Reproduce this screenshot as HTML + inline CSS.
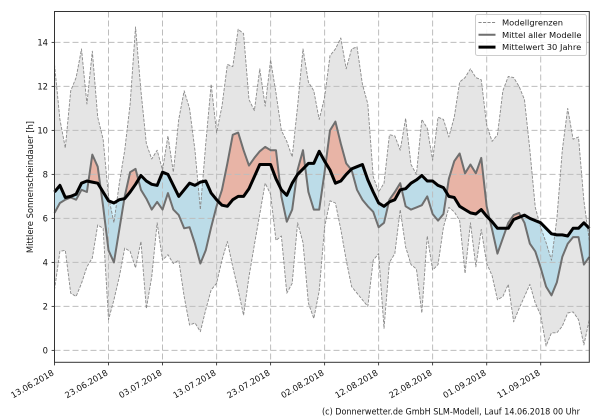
<!DOCTYPE html>
<html><head><meta charset="utf-8"><style>
html,body{margin:0;padding:0;background:#fff;width:600px;height:420px;overflow:hidden;}
svg{display:block;font-family:"DejaVu Sans","Liberation Sans",sans-serif;}
</style></head><body>
<svg width="600" height="420" viewBox="0 0 600 420" xmlns="http://www.w3.org/2000/svg">
<defs>
<clipPath id="cA" clipPathUnits="userSpaceOnUse"><polygon points="0,7.2 1,7.5 2,6.95 3,7 4,7.1 5,7.6 6,7.7 7,7.65 8,7.6 9,7.2 10,6.8 11,6.7 12,6.85 13,6.9 14,7.2 15,7.55 16,7.95 17,7.7 18,7.55 19,7.5 20,8.1 21,8 22,7.5 23,7 24,7.3 25,7.6 26,7.5 27,7.65 28,7.7 29,7.15 30,6.85 31,6.6 32,6.55 33,6.85 34,7 35,7 36,7.35 37,7.9 38,8.45 39,8.45 40,8.45 41,7.8 42,7.3 43,7.05 44,7.6 45,8 46,8.25 47,8.5 48,8.5 49,9.05 50,8.6 51,8.2 52,7.6 53,7.7 54,8 55,8.25 56,8.35 57,8.45 58,7.75 59,7.2 60,6.7 61,6.55 62,6.75 63,6.85 64,7.3 65,7.35 66,7.6 67,7.75 68,7.95 69,7.7 70,7.7 71,7.5 72,7.4 73,7 74,6.95 75,6.55 76,6.4 77,6.25 78,6.2 79,6.4 80,6.1 81,5.85 82,5.55 83,5.55 84,5.55 85,5.95 86,6.05 87,6.15 88,6 89,5.9 90,5.8 91,5.55 92,5.3 93,5.25 94,5.25 95,5.2 96,5.55 97,5.55 98,5.8 99,5.55 99,15 0,15"/></clipPath>
<clipPath id="cB" clipPathUnits="userSpaceOnUse"><polygon points="0,7.2 1,7.5 2,6.95 3,7 4,7.1 5,7.6 6,7.7 7,7.65 8,7.6 9,7.2 10,6.8 11,6.7 12,6.85 13,6.9 14,7.2 15,7.55 16,7.95 17,7.7 18,7.55 19,7.5 20,8.1 21,8 22,7.5 23,7 24,7.3 25,7.6 26,7.5 27,7.65 28,7.7 29,7.15 30,6.85 31,6.6 32,6.55 33,6.85 34,7 35,7 36,7.35 37,7.9 38,8.45 39,8.45 40,8.45 41,7.8 42,7.3 43,7.05 44,7.6 45,8 46,8.25 47,8.5 48,8.5 49,9.05 50,8.6 51,8.2 52,7.6 53,7.7 54,8 55,8.25 56,8.35 57,8.45 58,7.75 59,7.2 60,6.7 61,6.55 62,6.75 63,6.85 64,7.3 65,7.35 66,7.6 67,7.75 68,7.95 69,7.7 70,7.7 71,7.5 72,7.4 73,7 74,6.95 75,6.55 76,6.4 77,6.25 78,6.2 79,6.4 80,6.1 81,5.85 82,5.55 83,5.55 84,5.55 85,5.95 86,6.05 87,6.15 88,6 89,5.9 90,5.8 91,5.55 92,5.3 93,5.25 94,5.25 95,5.2 96,5.55 97,5.55 98,5.8 99,5.55 99,-0.5 0,-0.5"/></clipPath>
<clipPath id="cG" clipPathUnits="userSpaceOnUse"><polygon points="0,13 1,10.5 2,9.2 3,11.8 4,12.4 5,13.7 6,11.2 7,13.6 8,10.6 9,9.6 10,7 11,5.8 12,7.6 13,9.1 14,11.2 15,14.7 16,11.8 17,9.4 18,8.7 19,9.1 20,8.2 21,9.75 22,8.1 23,10.5 24,11.8 25,11 26,9.1 27,6.4 28,9.4 29,12.1 30,9.9 31,11.1 32,13 33,12.9 34,14.6 35,14.4 36,11.4 37,10.9 38,12.8 39,11.1 40,13.2 41,11.7 42,10 43,9.5 44,8.8 45,11.1 46,13.7 47,12.2 48,11.8 49,10.5 50,11.5 51,13.4 52,13.7 53,14.2 54,12.8 55,13.7 56,13.8 57,12.1 58,11.2 59,7.9 60,7.2 61,7.6 62,9.8 63,9.75 64,9.1 65,10.55 66,8.45 67,8 68,10.5 69,10.1 70,8.65 71,10.6 72,10.5 73,9.7 74,10.6 75,12.2 76,12.4 77,12.8 78,12.4 79,12.3 80,10.25 81,9.5 82,9.8 83,11.8 84,12.45 85,12.4 86,12 87,11.4 88,9.1 89,6.5 90,5.6 91,4.9 92,4.1 93,6 94,9.1 95,11 96,9.6 97,9.7 98,6.8 99,5 99,1.4 98,0.25 97,1.4 96,1.75 95,1.7 94,1.1 93,0.8 92,0.8 91,0.2 90,1.6 89,2.15 88,3 87,2.45 86,1.9 85,1.3 84,3 83,2.45 82,2.3 81,3.4 80,3.96 79,5.5 78,3.8 77,5.8 76,3.5 75,5.9 74,6.3 73,6.5 72,5.6 71,3.9 70,3.65 69,5.2 68,1.7 67,3.7 66,3.9 65,4.7 64,6.4 63,4.4 62,4 61,1 60,4.4 59,4.1 58,2 57,2.3 56,2.6 55,2.9 54,4.1 53,5.5 52,6.7 51,6.8 50,5.6 49,2.7 48,1.45 47,2.15 46,4.9 45,5.8 44,3.05 43,2.6 42,5.2 41,5 40,7.1 39,7.6 38,6.2 37,4.8 36,3.35 35,1.6 34,2.75 33,3.8 32,4.95 31,4.1 30,3.05 29,2.75 28,1.85 27,0.85 26,1.25 25,1.15 24,2.45 23,4.1 22,3.95 21,4.35 20,4.1 19,5.8 18,3.35 17,1.9 16,4.95 15,3.75 14,4.5 13,4.65 12,3.35 11,2.3 10,1.4 9,5.55 8,5.7 7,4.2 6,3.8 5,3.05 4,2.45 3,2.6 2,4.55 1,4.5 0,2.75"/></clipPath>
</defs>

<g transform="translate(54.5,350.4) scale(5.402,-22)">
<polygon fill="#e5e5e5" points="0,13 1,10.5 2,9.2 3,11.8 4,12.4 5,13.7 6,11.2 7,13.6 8,10.6 9,9.6 10,7 11,5.8 12,7.6 13,9.1 14,11.2 15,14.7 16,11.8 17,9.4 18,8.7 19,9.1 20,8.2 21,9.75 22,8.1 23,10.5 24,11.8 25,11 26,9.1 27,6.4 28,9.4 29,12.1 30,9.9 31,11.1 32,13 33,12.9 34,14.6 35,14.4 36,11.4 37,10.9 38,12.8 39,11.1 40,13.2 41,11.7 42,10 43,9.5 44,8.8 45,11.1 46,13.7 47,12.2 48,11.8 49,10.5 50,11.5 51,13.4 52,13.7 53,14.2 54,12.8 55,13.7 56,13.8 57,12.1 58,11.2 59,7.9 60,7.2 61,7.6 62,9.8 63,9.75 64,9.1 65,10.55 66,8.45 67,8 68,10.5 69,10.1 70,8.65 71,10.6 72,10.5 73,9.7 74,10.6 75,12.2 76,12.4 77,12.8 78,12.4 79,12.3 80,10.25 81,9.5 82,9.8 83,11.8 84,12.45 85,12.4 86,12 87,11.4 88,9.1 89,6.5 90,5.6 91,4.9 92,4.1 93,6 94,9.1 95,11 96,9.6 97,9.7 98,6.8 99,5 99,1.4 98,0.25 97,1.4 96,1.75 95,1.7 94,1.1 93,0.8 92,0.8 91,0.2 90,1.6 89,2.15 88,3 87,2.45 86,1.9 85,1.3 84,3 83,2.45 82,2.3 81,3.4 80,3.96 79,5.5 78,3.8 77,5.8 76,3.5 75,5.9 74,6.3 73,6.5 72,5.6 71,3.9 70,3.65 69,5.2 68,1.7 67,3.7 66,3.9 65,4.7 64,6.4 63,4.4 62,4 61,1 60,4.4 59,4.1 58,2 57,2.3 56,2.6 55,2.9 54,4.1 53,5.5 52,6.7 51,6.8 50,5.6 49,2.7 48,1.45 47,2.15 46,4.9 45,5.8 44,3.05 43,2.6 42,5.2 41,5 40,7.1 39,7.6 38,6.2 37,4.8 36,3.35 35,1.6 34,2.75 33,3.8 32,4.95 31,4.1 30,3.05 29,2.75 28,1.85 27,0.85 26,1.25 25,1.15 24,2.45 23,4.1 22,3.95 21,4.35 20,4.1 19,5.8 18,3.35 17,1.9 16,4.95 15,3.75 14,4.5 13,4.65 12,3.35 11,2.3 10,1.4 9,5.55 8,5.7 7,4.2 6,3.8 5,3.05 4,2.45 3,2.6 2,4.55 1,4.5 0,2.75"/>
<g clip-path="url(#cB)"><polygon fill="#d4f0fa" points="0,6.25 1,6.7 2,6.85 3,6.95 4,6.85 5,7.3 6,7.2 7,8.9 8,8.35 9,6.55 10,4.55 11,4 12,5.5 13,7 14,8.1 15,8.25 16,7.3 17,6.9 18,6.4 19,6.75 20,6.4 21,7.15 22,6.4 23,6.15 24,5.55 25,5.6 26,4.85 27,3.95 28,4.55 29,5.6 30,6.55 31,7.3 32,8.5 33,9.8 34,9.9 35,9.1 36,8.4 37,8.75 38,9.05 39,9.25 40,9.1 41,9.1 42,7 43,5.85 44,6.4 45,8.2 46,9.1 47,7.2 48,6.4 49,6.4 50,8.1 51,10 52,10.4 53,9.4 54,8.5 55,8.2 56,7.3 57,6.85 58,6.55 59,6.3 60,5.6 61,5.8 62,6.85 63,7.2 64,7.6 65,6.55 66,6.4 67,6.5 68,6.6 69,7 70,6.2 71,5.9 72,6.2 73,7.8 74,8.6 75,8.95 76,8.05 77,8.45 78,8.05 79,8.75 80,6.55 81,5.5 82,4.4 83,5.1 84,5.8 85,6.15 86,6.25 87,5.8 88,4.85 89,4.5 90,3.75 91,2.9 92,2.5 93,3.1 94,4.25 95,4.85 96,5.15 97,5.15 98,3.9 99,4.25 99,15 0,15"/></g>
<g clip-path="url(#cB)"><g clip-path="url(#cG)"><polygon fill="#bcdce8" points="0,6.25 1,6.7 2,6.85 3,6.95 4,6.85 5,7.3 6,7.2 7,8.9 8,8.35 9,6.55 10,4.55 11,4 12,5.5 13,7 14,8.1 15,8.25 16,7.3 17,6.9 18,6.4 19,6.75 20,6.4 21,7.15 22,6.4 23,6.15 24,5.55 25,5.6 26,4.85 27,3.95 28,4.55 29,5.6 30,6.55 31,7.3 32,8.5 33,9.8 34,9.9 35,9.1 36,8.4 37,8.75 38,9.05 39,9.25 40,9.1 41,9.1 42,7 43,5.85 44,6.4 45,8.2 46,9.1 47,7.2 48,6.4 49,6.4 50,8.1 51,10 52,10.4 53,9.4 54,8.5 55,8.2 56,7.3 57,6.85 58,6.55 59,6.3 60,5.6 61,5.8 62,6.85 63,7.2 64,7.6 65,6.55 66,6.4 67,6.5 68,6.6 69,7 70,6.2 71,5.9 72,6.2 73,7.8 74,8.6 75,8.95 76,8.05 77,8.45 78,8.05 79,8.75 80,6.55 81,5.5 82,4.4 83,5.1 84,5.8 85,6.15 86,6.25 87,5.8 88,4.85 89,4.5 90,3.75 91,2.9 92,2.5 93,3.1 94,4.25 95,4.85 96,5.15 97,5.15 98,3.9 99,4.25 99,15 0,15"/></g></g>
<g clip-path="url(#cA)"><polygon fill="#e8b4a6" points="0,6.25 1,6.7 2,6.85 3,6.95 4,6.85 5,7.3 6,7.2 7,8.9 8,8.35 9,6.55 10,4.55 11,4 12,5.5 13,7 14,8.1 15,8.25 16,7.3 17,6.9 18,6.4 19,6.75 20,6.4 21,7.15 22,6.4 23,6.15 24,5.55 25,5.6 26,4.85 27,3.95 28,4.55 29,5.6 30,6.55 31,7.3 32,8.5 33,9.8 34,9.9 35,9.1 36,8.4 37,8.75 38,9.05 39,9.25 40,9.1 41,9.1 42,7 43,5.85 44,6.4 45,8.2 46,9.1 47,7.2 48,6.4 49,6.4 50,8.1 51,10 52,10.4 53,9.4 54,8.5 55,8.2 56,7.3 57,6.85 58,6.55 59,6.3 60,5.6 61,5.8 62,6.85 63,7.2 64,7.6 65,6.55 66,6.4 67,6.5 68,6.6 69,7 70,6.2 71,5.9 72,6.2 73,7.8 74,8.6 75,8.95 76,8.05 77,8.45 78,8.05 79,8.75 80,6.55 81,5.5 82,4.4 83,5.1 84,5.8 85,6.15 86,6.25 87,5.8 88,4.85 89,4.5 90,3.75 91,2.9 92,2.5 93,3.1 94,4.25 95,4.85 96,5.15 97,5.15 98,3.9 99,4.25 99,-0.5 0,-0.5"/></g>
</g>

<g stroke="#bdbdbd" stroke-width="1" stroke-dasharray="6,3" fill="none">
<line x1="54.5" y1="350.4" x2="589.3" y2="350.4"/>
<line x1="54.5" y1="306.4" x2="589.3" y2="306.4"/>
<line x1="54.5" y1="262.4" x2="589.3" y2="262.4"/>
<line x1="54.5" y1="218.4" x2="589.3" y2="218.4"/>
<line x1="54.5" y1="174.4" x2="589.3" y2="174.4"/>
<line x1="54.5" y1="130.4" x2="589.3" y2="130.4"/>
<line x1="54.5" y1="86.4" x2="589.3" y2="86.4"/>
<line x1="54.5" y1="42.4" x2="589.3" y2="42.4"/>
<line x1="108.5" y1="11.5" x2="108.5" y2="362.3"/>
<line x1="162.5" y1="11.5" x2="162.5" y2="362.3"/>
<line x1="216.6" y1="11.5" x2="216.6" y2="362.3"/>
<line x1="270.6" y1="11.5" x2="270.6" y2="362.3"/>
<line x1="324.6" y1="11.5" x2="324.6" y2="362.3"/>
<line x1="378.6" y1="11.5" x2="378.6" y2="362.3"/>
<line x1="432.6" y1="11.5" x2="432.6" y2="362.3"/>
<line x1="486.7" y1="11.5" x2="486.7" y2="362.3"/>
<line x1="540.7" y1="11.5" x2="540.7" y2="362.3"/>
</g>

<g transform="translate(54.5,350.4) scale(5.402,-22)" fill="none" stroke-linejoin="round">
<polyline vector-effect="non-scaling-stroke" stroke="#8a8a8a" stroke-width="0.9" stroke-dasharray="3.1,1.4" points="0,13 1,10.5 2,9.2 3,11.8 4,12.4 5,13.7 6,11.2 7,13.6 8,10.6 9,9.6 10,7 11,5.8 12,7.6 13,9.1 14,11.2 15,14.7 16,11.8 17,9.4 18,8.7 19,9.1 20,8.2 21,9.75 22,8.1 23,10.5 24,11.8 25,11 26,9.1 27,6.4 28,9.4 29,12.1 30,9.9 31,11.1 32,13 33,12.9 34,14.6 35,14.4 36,11.4 37,10.9 38,12.8 39,11.1 40,13.2 41,11.7 42,10 43,9.5 44,8.8 45,11.1 46,13.7 47,12.2 48,11.8 49,10.5 50,11.5 51,13.4 52,13.7 53,14.2 54,12.8 55,13.7 56,13.8 57,12.1 58,11.2 59,7.9 60,7.2 61,7.6 62,9.8 63,9.75 64,9.1 65,10.55 66,8.45 67,8 68,10.5 69,10.1 70,8.65 71,10.6 72,10.5 73,9.7 74,10.6 75,12.2 76,12.4 77,12.8 78,12.4 79,12.3 80,10.25 81,9.5 82,9.8 83,11.8 84,12.45 85,12.4 86,12 87,11.4 88,9.1 89,6.5 90,5.6 91,4.9 92,4.1 93,6 94,9.1 95,11 96,9.6 97,9.7 98,6.8 99,5"/>
<polyline vector-effect="non-scaling-stroke" stroke="#8a8a8a" stroke-width="0.9" stroke-dasharray="3.1,1.4" points="0,2.75 1,4.5 2,4.55 3,2.6 4,2.45 5,3.05 6,3.8 7,4.2 8,5.7 9,5.55 10,1.4 11,2.3 12,3.35 13,4.65 14,4.5 15,3.75 16,4.95 17,1.9 18,3.35 19,5.8 20,4.1 21,4.35 22,3.95 23,4.1 24,2.45 25,1.15 26,1.25 27,0.85 28,1.85 29,2.75 30,3.05 31,4.1 32,4.95 33,3.8 34,2.75 35,1.6 36,3.35 37,4.8 38,6.2 39,7.6 40,7.1 41,5 42,5.2 43,2.6 44,3.05 45,5.8 46,4.9 47,2.15 48,1.45 49,2.7 50,5.6 51,6.8 52,6.7 53,5.5 54,4.1 55,2.9 56,2.6 57,2.3 58,2 59,4.1 60,4.4 61,1 62,4 63,4.4 64,6.4 65,4.7 66,3.9 67,3.7 68,1.7 69,5.2 70,3.65 71,3.9 72,5.6 73,6.5 74,6.3 75,5.9 76,3.5 77,5.8 78,3.8 79,5.5 80,3.96 81,3.4 82,2.3 83,2.45 84,3 85,1.3 86,1.9 87,2.45 88,3 89,2.15 90,1.6 91,0.2 92,0.8 93,0.8 94,1.1 95,1.7 96,1.75 97,1.4 98,0.25 99,1.4"/>
<polyline vector-effect="non-scaling-stroke" stroke="#6f6f6f" stroke-width="2" points="0,6.25 1,6.7 2,6.85 3,6.95 4,6.85 5,7.3 6,7.2 7,8.9 8,8.35 9,6.55 10,4.55 11,4 12,5.5 13,7 14,8.1 15,8.25 16,7.3 17,6.9 18,6.4 19,6.75 20,6.4 21,7.15 22,6.4 23,6.15 24,5.55 25,5.6 26,4.85 27,3.95 28,4.55 29,5.6 30,6.55 31,7.3 32,8.5 33,9.8 34,9.9 35,9.1 36,8.4 37,8.75 38,9.05 39,9.25 40,9.1 41,9.1 42,7 43,5.85 44,6.4 45,8.2 46,9.1 47,7.2 48,6.4 49,6.4 50,8.1 51,10 52,10.4 53,9.4 54,8.5 55,8.2 56,7.3 57,6.85 58,6.55 59,6.3 60,5.6 61,5.8 62,6.85 63,7.2 64,7.6 65,6.55 66,6.4 67,6.5 68,6.6 69,7 70,6.2 71,5.9 72,6.2 73,7.8 74,8.6 75,8.95 76,8.05 77,8.45 78,8.05 79,8.75 80,6.55 81,5.5 82,4.4 83,5.1 84,5.8 85,6.15 86,6.25 87,5.8 88,4.85 89,4.5 90,3.75 91,2.9 92,2.5 93,3.1 94,4.25 95,4.85 96,5.15 97,5.15 98,3.9 99,4.25"/>
<polyline vector-effect="non-scaling-stroke" stroke="#000" stroke-width="3" points="0,7.2 1,7.5 2,6.95 3,7 4,7.1 5,7.6 6,7.7 7,7.65 8,7.6 9,7.2 10,6.8 11,6.7 12,6.85 13,6.9 14,7.2 15,7.55 16,7.95 17,7.7 18,7.55 19,7.5 20,8.1 21,8 22,7.5 23,7 24,7.3 25,7.6 26,7.5 27,7.65 28,7.7 29,7.15 30,6.85 31,6.6 32,6.55 33,6.85 34,7 35,7 36,7.35 37,7.9 38,8.45 39,8.45 40,8.45 41,7.8 42,7.3 43,7.05 44,7.6 45,8 46,8.25 47,8.5 48,8.5 49,9.05 50,8.6 51,8.2 52,7.6 53,7.7 54,8 55,8.25 56,8.35 57,8.45 58,7.75 59,7.2 60,6.7 61,6.55 62,6.75 63,6.85 64,7.3 65,7.35 66,7.6 67,7.75 68,7.95 69,7.7 70,7.7 71,7.5 72,7.4 73,7 74,6.95 75,6.55 76,6.4 77,6.25 78,6.2 79,6.4 80,6.1 81,5.85 82,5.55 83,5.55 84,5.55 85,5.95 86,6.05 87,6.15 88,6 89,5.9 90,5.8 91,5.55 92,5.3 93,5.25 94,5.25 95,5.2 96,5.55 97,5.55 98,5.8 99,5.55"/>
</g>

<rect x="54.5" y="11.5" width="534.8" height="350.8" fill="none" stroke="#333" stroke-width="1"/>

<g stroke="#333" stroke-width="0.9">
<line x1="51.6" y1="350.4" x2="54.5" y2="350.4"/>
<line x1="51.6" y1="306.4" x2="54.5" y2="306.4"/>
<line x1="51.6" y1="262.4" x2="54.5" y2="262.4"/>
<line x1="51.6" y1="218.4" x2="54.5" y2="218.4"/>
<line x1="51.6" y1="174.4" x2="54.5" y2="174.4"/>
<line x1="51.6" y1="130.4" x2="54.5" y2="130.4"/>
<line x1="51.6" y1="86.4" x2="54.5" y2="86.4"/>
<line x1="51.6" y1="42.4" x2="54.5" y2="42.4"/>
<line x1="54.5" y1="362.3" x2="54.5" y2="365.4"/>
<line x1="108.5" y1="362.3" x2="108.5" y2="365.4"/>
<line x1="162.5" y1="362.3" x2="162.5" y2="365.4"/>
<line x1="216.6" y1="362.3" x2="216.6" y2="365.4"/>
<line x1="270.6" y1="362.3" x2="270.6" y2="365.4"/>
<line x1="324.6" y1="362.3" x2="324.6" y2="365.4"/>
<line x1="378.6" y1="362.3" x2="378.6" y2="365.4"/>
<line x1="432.6" y1="362.3" x2="432.6" y2="365.4"/>
<line x1="486.7" y1="362.3" x2="486.7" y2="365.4"/>
<line x1="540.7" y1="362.3" x2="540.7" y2="365.4"/>
</g>

<g font-size="8.4" fill="#111" text-anchor="end">
<text x="48" y="353.4">0</text>
<text x="48" y="309.4">2</text>
<text x="48" y="265.4">4</text>
<text x="48" y="221.4">6</text>
<text x="48" y="177.4">8</text>
<text x="48" y="133.4">10</text>
<text x="48" y="89.4">12</text>
<text x="48" y="45.4">14</text>
</g>

<g font-size="8.4" fill="#111" text-anchor="end">
<text transform="translate(54.5,374.5) rotate(-30)">13.06.2018</text>
<text transform="translate(108.5,374.5) rotate(-30)">23.06.2018</text>
<text transform="translate(162.5,374.5) rotate(-30)">03.07.2018</text>
<text transform="translate(216.6,374.5) rotate(-30)">13.07.2018</text>
<text transform="translate(270.6,374.5) rotate(-30)">23.07.2018</text>
<text transform="translate(324.6,374.5) rotate(-30)">02.08.2018</text>
<text transform="translate(378.6,374.5) rotate(-30)">12.08.2018</text>
<text transform="translate(432.6,374.5) rotate(-30)">22.08.2018</text>
<text transform="translate(486.7,374.5) rotate(-30)">01.09.2018</text>
<text transform="translate(540.7,374.5) rotate(-30)">11.09.2018</text>
</g>

<text transform="translate(33,187) rotate(-90)" font-size="8.4" fill="#111" text-anchor="middle">Mittlere Sonnenscheindauer [h]</text>

<rect x="475.5" y="14.5" width="111" height="41" rx="2" ry="2" fill="#fff" fill-opacity="0.85" stroke="#cccccc" stroke-width="1"/>
<line x1="478.5" y1="22.5" x2="495.5" y2="22.5" stroke="#8a8a8a" stroke-width="0.9" stroke-dasharray="3.1,1.4"/>
<line x1="478.5" y1="34.8" x2="495.5" y2="34.8" stroke="#6f6f6f" stroke-width="2"/>
<line x1="478.5" y1="47.1" x2="495.5" y2="47.1" stroke="#000" stroke-width="3"/>
<g font-size="8.33" fill="#111">
<text x="502" y="25.5">Modellgrenzen</text>
<text x="502" y="37.8">Mittel aller Modelle</text>
<text x="502" y="50.1">Mittelwert 30 Jahre</text>
</g>

<text x="322" y="414.5" font-size="8.4" fill="#111" textLength="258" lengthAdjust="spacingAndGlyphs">(c) Donnerwetter.de GmbH SLM-Modell, Lauf 14.06.2018 00 Uhr</text>
</svg>
</body></html>
